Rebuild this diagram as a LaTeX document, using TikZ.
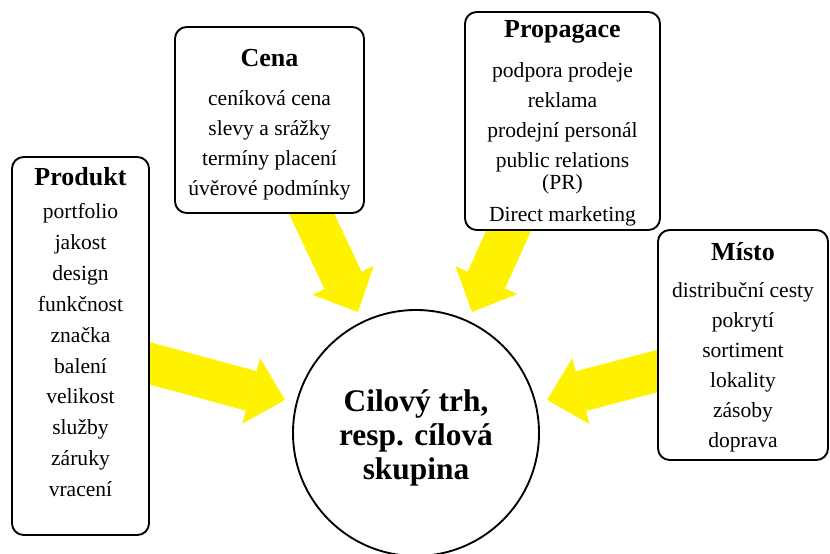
\documentclass[tikz,border=0pt]{standalone}
\usepackage{fontspec}
\setmainfont{Liberation Serif}
\usetikzlibrary{arrows.meta,backgrounds,calc}

\newlength{\px}
\setlength{\px}{0.03cm}
\newcommand{\headfont}{\bfseries\fontsize{22.2}{24.8}\selectfont}

\begin{document}
\begin{tikzpicture}[
    x=0.03cm, y=-0.03cm,
    font=\fontsize{18.4}{25.6}\selectfont,
    block/.style={
		rectangle,
		rounded corners=10pt,
		draw=black,
		line width=1.6pt,
		align=center,
		inner sep=0pt,
		fill=white
	},
	goal/.style={
		circle,
		draw=black,
		line width=1.6pt,
		align=center,
		inner sep=0pt,
		minimum size=7.38cm,
		fill=white,
		font=\bfseries\fontsize{26.8}{29}\selectfont
	},
	push/.style={
		draw=yellow,
		line width=1.23cm,
		-{Triangle[length=1.05cm,width=2.04cm,line width=0pt]}
	}
  ]
  \useasboundingbox (0,0) rectangle (830,554);

  % We start by placing the blocks
  \node [block, minimum width=4.11cm, minimum height=11.34cm,
         font=\fontsize{18.4}{26.3}\selectfont] (produkt) at (80.5,346)
 {%
  {\headfont Produkt}\\[2pt]
  portfolio\\
  jakost\\
  design\\
  funkčnost\\
  značka\\
  balení\\
  velikost\\
  služby\\
  záruky\\
  vracení\rule[-28\px]{0pt}{0pt}
 };

  \node [block, minimum width=5.67cm, minimum height=5.58cm] (cena) at (269.5,120)
 {%
  {\headfont\rule{0pt}{26\px}Cena}\\[8pt]
  ceníková cena\\
  slevy a srážky\\
  termíny placení\\
  úvěrové podmínky
 };

  \node [block, minimum width=5.85cm, minimum height=6.54cm] (propagace) at (562.5,121)
 {%
  {\headfont\rule{0pt}{22\px}Propagace}\\[8pt]
  podpora prodeje\\
  reklama\\
  prodejní personál\\
  public relations\\[-7pt]
  (PR)\\[2pt]
  Direct marketing
 };

  \node [block, minimum width=5.1cm, minimum height=6.9cm] (misto) at (743,345)
 {%
  {\headfont\rule{0pt}{22\px}Místo}\\[6pt]
  distribuční cesty\\
  pokrytí\\
  sortiment\\
  lokality\\
  zásoby\\
  doprava
 };

  \node [goal] (cil) at (416,433) {\rule{0pt}{32\px}Cilový trh,\\ resp. cílová\\ skupina};

  % yellow arrows behind the blocks
  \begin{scope}[on background layer]
  \draw [push] ($(produkt.east)+(-9,15)$) -- ($(cil.center)+(-131,-33)$);
  \draw [push] ($(cena.south)+(37,-11)$) -- ($(cil.center)+(-58,-121)$);
  \draw [push] ($(propagace.south)+(-49,-11)$) -- ($(cil.center)+(56,-121)$);
  \draw [push] ($(misto.west)+(10,23.5)$) -- ($(cil.center)+(131,-33)$);
  \end{scope}

\end{tikzpicture}
\end{document}
